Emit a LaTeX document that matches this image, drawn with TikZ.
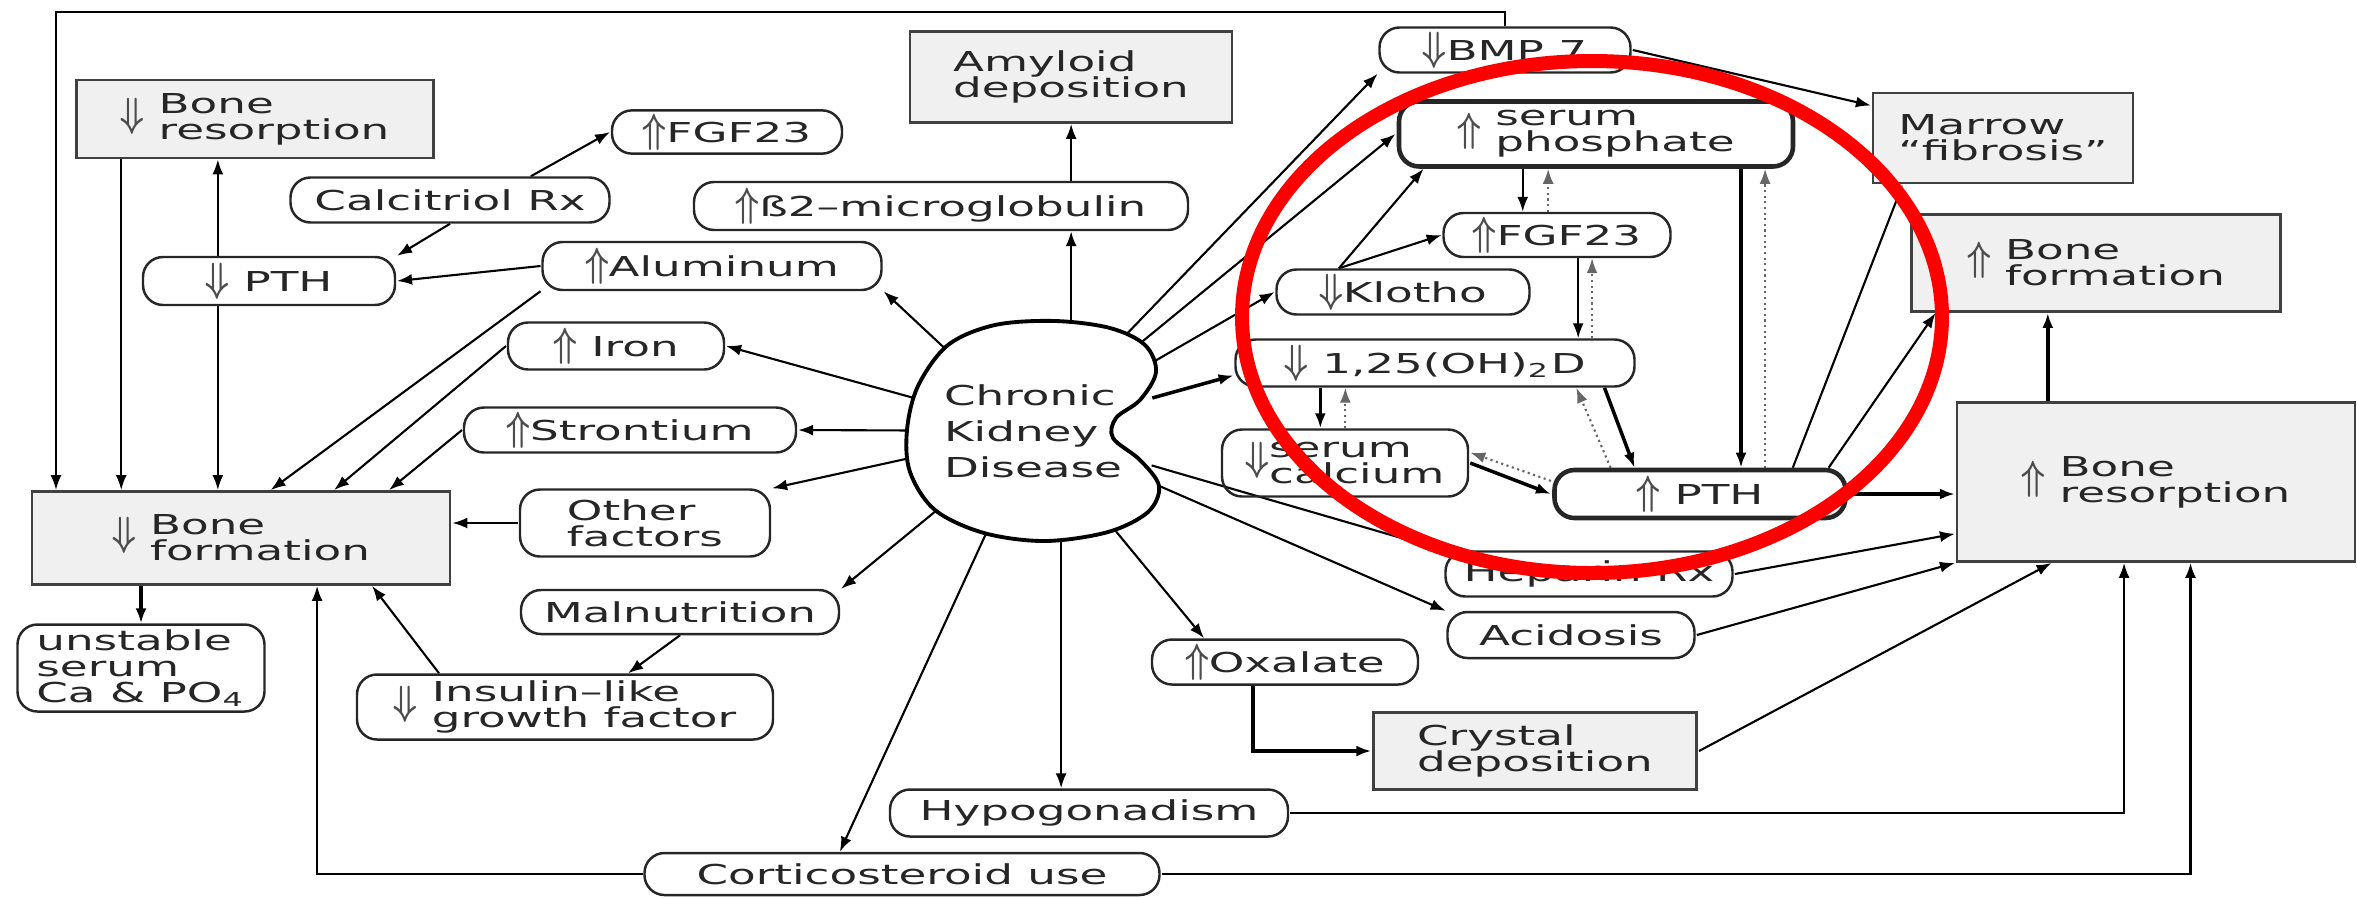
\documentclass[tikz,border=0pt]{standalone}
\usepackage{fontspec}
\setmainfont{DejaVu Sans}
\usepackage{graphicx}
\usetikzlibrary{arrows.meta,calc,shapes.geometric}
\pgfdeclarelayer{bg}\pgfsetlayers{bg,main}
\newcommand{\nodefont}{\fontsize{7.8}{7.4}\selectfont\lineskiplimit=-9pt\relax}
\newcommand{\upar}{\textcolor{black!70}{\scalebox{.68}[1.45]{\boldmath$\Uparrow$}}}
\newcommand{\dnar}{\textcolor{black!70}{\scalebox{.68}[1.45]{\boldmath$\Downarrow$}}}
\newcommand{\two}[2]{$\vcenter{\baselineskip=7.4pt\relax\lineskiplimit=-9pt\relax\hbox{#1}\hbox{#2}}$}
\begin{document}
\begin{tikzpicture}[x=0.060606mm,y=-0.1mm,xscale=1.65,transform shape,
every node/.style={font=\nodefont,inner sep=1pt,text=black!85},
gbox/.style={draw=black!75,fill=black!6,line width=0.8pt,align=left},
pill/.style={draw=black!85,line width=0.7pt,rounded corners=2mm,align=left},
wd/.style={minimum width=#1*0.060606mm},ht/.style={minimum height=#1*0.1mm},
arr/.style={-{Latex[length=1.5mm,width=1.1mm]},line width=0.6pt},
dots/.style={arr,densely dotted,black!60}]
\useasboundingbox (0,0) rectangle (2357,897);
\draw[line width=1.1pt,fill=white] plot[smooth cycle,tension=.55] coordinates {(1055,321) (1110,328) (1145,345) (1156,372) (1140,400) (1116,418) (1113,438) (1140,460) (1159,486) (1148,512) (1108,532) (1045,541) (984,533) (935,510) (910,472) (907,430) (918,386) (948,345) (995,325)};
\node[ellipse,wd=220,ht=190,inner sep=0pt,align=left,font=\fontsize{7.8}{10.2}\selectfont] (ckd) at (1033,431) {Chronic\\Kidney\\Disease};
\node[gbox,wd=357,ht=78] (bresL) at (255,119) {\dnar\ \two{Bone}{resorption}};
\node[pill,wd=252,ht=48] (ptL) at (269,281) {\dnar\ PTH};
\node[pill,wd=319,ht=45] (calc) at (450,200) {Calcitriol Rx};
\node[pill,wd=230,ht=43] (fgfL) at (727,132) {\upar FGF23};
\node[pill,wd=494,ht=48] (b2) at (941,206) {\upar ß2--microglobulin};
\node[gbox,wd=322,ht=91] (amy) at (1071,77) {Amyloid\\deposition};
\node[pill,wd=339,ht=48] (alu) at (712,266) {\upar Aluminum};
\node[pill,wd=216,ht=47] (iron) at (616,346) {\upar\ Iron};
\node[pill,wd=332,ht=45] (stro) at (630,430) {\upar Strontium};
\node[pill,wd=250,ht=67] (other) at (645,523) {Other\\factors};
\node[gbox,wd=418,ht=93] (bfL) at (241,538) {\dnar\ \two{Bone}{formation}};
\node[pill,wd=247,ht=87] (unst) at (141,668) {unstable\\serum\\Ca \& PO\textsubscript{4}};
\node[pill,wd=318,ht=44] (maln) at (680,612) {Malnutrition};
\node[pill,wd=416,ht=65] (igf) at (565,707) {\dnar\ \two{Insulin--like}{growth factor}};
\node[pill,wd=515,ht=42] (cort) at (902,874) {Corticosteroid use};
\node[pill,wd=398,ht=47] (hypo) at (1089,813) {Hypogonadism};
\node[pill,wd=266,ht=45] (oxa) at (1285,662) {\upar Oxalate};
\node[gbox,wd=323,ht=77] (cry) at (1535,751) {Crystal\\deposition};
\node[pill,wd=247,ht=46] (acid) at (1571,635) {Acidosis};
\node[pill,wd=287,ht=45] (hep) at (1589,574) {Heparin Rx};
\node[pill,wd=251,ht=45] (bmp) at (1505,50) {\dnar BMP 7};
\node[pill,line width=1.3pt,wd=394,ht=65] (sp) at (1596,134) {\upar\ \two{serum}{phosphate}};
\node[pill,wd=227,ht=44] (fgfR) at (1557,235) {\upar FGF23};
\node[pill,wd=253,ht=45] (klo) at (1403,292) {\dnar Klotho};
\node[pill,wd=399,ht=47] (vd) at (1435,363) {\dnar\ 1,25(OH)\textsubscript{2}D};
\node[pill,wd=246,ht=67] (sca) at (1345,463) {\dnar\two{serum}{calcium}};
\node[pill,line width=1.3pt,wd=291,ht=48] (ptR) at (1700,494) {\upar\ PTH};
\node[gbox,wd=260,ht=90] (marrow) at (2003,138) {Marrow\\“fibrosis”};
\node[gbox,wd=369,ht=97] (bfR) at (2096,263) {\upar\ \two{Bone}{formation}};
\node[gbox,wd=398,ht=159] (brR) at (2156,482) {\upar\ \two{Bone}{resorption}};
\coordinate (tl) at (56,12);
\coordinate (r1) at ($(bresL.south west)!.13!(bresL.south east)$);
\coordinate (p1) at ($(ptL.north west)!.3!(ptL.north east)$);
\coordinate (h1) at ($(hypo.north west)!.43!(hypo.north east)$);
\coordinate (f1) at ($(fgfR.north west)!.35!(fgfR.north east)$);
\coordinate (f2) at ($(fgfR.north west)!.46!(fgfR.north east)$);
\coordinate (v1) at ($(fgfR.south west)!.59!(fgfR.south east)$);
\coordinate (v2) at ($(fgfR.south west)!.65!(fgfR.south east)$);
\coordinate (c1) at ($(sca.north west)!.4!(sca.north east)$);
\coordinate (c2) at ($(sca.north west)!.5!(sca.north east)$);
\coordinate (s1) at ($(sp.south west)!.86!(sp.south east)$);
\coordinate (s2) at ($(sp.south west)!.92!(sp.south east)$);
\coordinate (b1) at ($(brR.north west)!.23!(brR.north east)$);
\begin{pgfonlayer}{bg}
\draw[arr] (bmp.north) |- (tl) -- (tl |- bfL.north);\draw[arr] (r1) -- (r1 |- bfL.north);
\draw[arr] (p1) -- (p1 |- bresL.south);\draw[arr] (p1 |- ptL.south) -- (p1 |- bfL.north);
\draw[arr] (calc.south) -- (ptL.north east);\draw[arr] ($(calc.north)!.5!(calc.north east)$) -- (fgfL.west);
\draw[arr] (alu.west) -- (ptL.east);\draw[arr] (alu.south west) -- ($(bfL.north west)!.57!(bfL.north east)$);
\draw[arr] (iron.west) -- ($(bfL.north west)!.72!(bfL.north east)$);\draw[arr] (stro.west) -- ($(bfL.north west)!.85!(bfL.north east)$);
\draw[arr] (other.west) -- (other.west -| bfL.east);\draw[arr,line width=1pt] (unst.north |- bfL.south) -- (unst.north);
\draw[arr] ($(igf.north west)!.2!(igf.north east)$) -- ($(bfL.south west)!.81!(bfL.south east)$);
\draw[arr] (maln.south) -- ($(igf.north west)!.65!(igf.north east)$);
\draw[arr] (cort.west) -| ($(bfL.south west)!.68!(bfL.south east)$);
\draw[arr] (ckd) -- (alu.south east);\draw[arr] (ckd) -- (iron.east);\draw[arr] (ckd) -- (stro.east);
\draw[arr] (ckd) -- (other.north east);\draw[arr] (ckd) -- (maln.north east);
\draw[arr] (amy.south |- ckd.north) -- (amy.south |- b2.south);\draw[arr] (amy.south |- b2.north) -- (amy.south);
\draw[arr] (ckd) -- (bmp.south west);\draw[arr] (ckd) -- (sp.west);\draw[arr] (ckd) -- (klo.west);
\draw[arr,line width=1pt] (ckd) -- ($(vd.west)!.5!(vd.south west)$);
\draw[arr] (ckd) -- (hep.north west);\draw[arr] (ckd) -- (acid.north west);
\draw[arr] (ckd) -- ($(oxa.north west)!.2!(oxa.north east)$);
\draw[arr] (h1 |- ckd.south) -- (h1);\draw[arr] (ckd) -- ($(cort.north west)!.38!(cort.north east)$);
\draw[arr] (bmp.east) -- ($(marrow.north west)!.15!(marrow.south west)$);
\draw[arr] ($(klo.north west)!.25!(klo.north east)$) -- ($(sp.south west)!.07!(sp.south east)$);
\draw[arr] ($(klo.north west)!.25!(klo.north east)$) -- (fgfR.west);
\draw[arr] (f1 |- sp.south) -- (f1);\draw[dots] (f2) -- (f2 |- sp.south);
\draw[arr] (v1) -- (v1 |- vd.north);\draw[dots] (v2 |- vd.north) -- (v2);
\draw[arr,line width=1pt] (c1 |- vd.south) -- (c1);\draw[dots] (c2) -- (c2 |- vd.south);
\draw[arr,line width=1pt] ($(vd.south west)!.92!(vd.south east)$) -- ($(ptR.north west)!.28!(ptR.north east)$);
\draw[dots] ($(ptR.north west)!.2!(ptR.north east)$) -- ($(vd.south west)!.85!(vd.south east)$);
\draw[arr,line width=1pt] (sca.east) -- (ptR.west);\draw[dots] ($(ptR.west)!.5!(ptR.north west)$) -- ($(sca.east)!.3!(sca.north east)$);
\draw[arr,line width=1pt] (s1) -- (s1 |- ptR.north);\draw[dots] (s2 |- ptR.north) -- (s2);
\draw[arr] ($(ptR.north west)!.81!(ptR.north east)$) -- ($(marrow.south west)!.12!(marrow.south east)$);
\draw[arr] ($(ptR.north west)!.93!(ptR.north east)$) -- ($(bfR.south west)!.07!(bfR.south east)$);
\draw[arr,line width=1pt] (ptR.east) -- (ptR.east -| brR.west);\draw[arr,line width=1pt] (b1) -- (b1 |- bfR.south);
\draw[arr] (hep.east) -- ($(brR.north west)!.82!(brR.south west)$);\draw[arr] (acid.east) -- (brR.south west);
\draw[arr] (cry.east) -- ($(brR.south west)!.24!(brR.south east)$);
\draw[arr] (hypo.east) -| ($(brR.south west)!.42!(brR.south east)$);
\draw[arr] (cort.east) -| ($(brR.south west)!.585!(brR.south east)$);
\draw[arr,line width=1pt] ($(oxa.south west)!.38!(oxa.south east)$) |- (cry.west);
\end{pgfonlayer}
\draw[red,line width=1.4mm] (1592,317) ellipse [x radius=21.21mm,y radius=25.6mm];
\end{tikzpicture}
\end{document}
